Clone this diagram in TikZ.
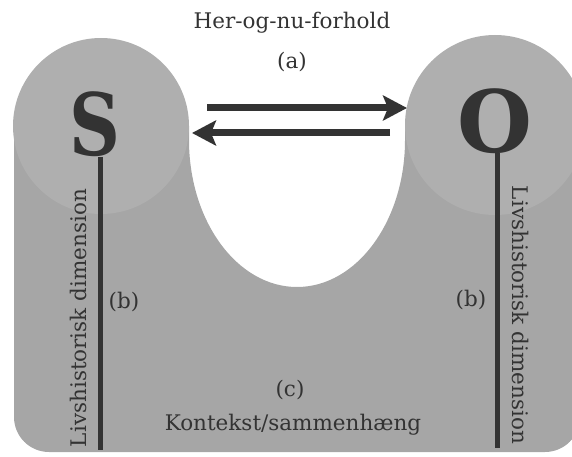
\documentclass[tikz,border=0pt]{standalone}
\usepackage{fontspec}
\usepackage{graphicx}
\setmainfont{DejaVu Serif}
\usetikzlibrary{arrows.meta}
\definecolor{bodygray}{HTML}{A6A6A6}
\definecolor{blobgray}{HTML}{AFAFAF}
\definecolor{ink}{HTML}{333333}
\tikzset{
  lbl/.style={font=\fontsize{21.5}{24}\selectfont, text=ink, inner sep=0pt},
  bigletter/.style={font=\fontsize{86}{86}\selectfont\bfseries, text=ink, inner sep=0pt},
  stem/.style={draw=ink, line width=5pt},
  relarrow/.style={draw=ink, line width=7pt, -{Stealth[length=24pt,width=25pt,inset=5pt]}}
}
\begin{document}
\begin{tikzpicture}[x=1pt,y=-1pt]
\useasboundingbox (0,0) rectangle (572,457);
\begin{scope}
\clip (0,0) rectangle (572,457);
% body of the context shape
\fill[bodygray] (14,126) [rounded corners=35pt] -- (14,452) -- (580,452) [sharp corners] -- (580,126) -- (405,126) -- (405,140)
  arc[start angle=0, end angle=180, x radius=108, y radius=147] -- (189,126) -- cycle;
% the two blobs
\fill[blobgray] (101,126) circle[radius=88];
\fill[blobgray] (495,125) circle[radius=90];
\end{scope}

% texts
\node[lbl] (top) at (292,23) {Her-og-nu-forhold};
\node[lbl] (a) at (292,62) {(a)};
\node[lbl] (bl) at (124,302) {(b)};
\node[lbl] (br) at (471,300) {(b)};
\node[lbl] (c) at (290,390) {(c)};
\node[lbl] (kont) at (293,425) {Kontekst/sammenhæng};
\node[lbl, rotate=90] (livl) at (78,318) {Livshistorisk dimension};
\node[lbl, rotate=-90] (livr) at (521,315) {Livshistorisk dimension};

% S and O
\node[bigletter, anchor=south] (S) at (95,157) {\scalebox{0.82}[1]{S}};
\node[bigletter, anchor=base] (O) at (495,153) {O};

\coordinate (Sbot) at (100,450);
\coordinate (Obot) at (497,448);
\draw[stem] (S.south -| Sbot) -- (Sbot);
\draw[stem] (O.base -| Obot) -- (Obot);

% arrows
\coordinate (r1) at (207,108);
\coordinate (r2) at (407,108);
\coordinate (l1) at (390,133);
\coordinate (l2) at (192,133);
\draw[relarrow] (r1) -- (r2);
\draw[relarrow] (l1) -- (l2);
\end{tikzpicture}
\end{document}
